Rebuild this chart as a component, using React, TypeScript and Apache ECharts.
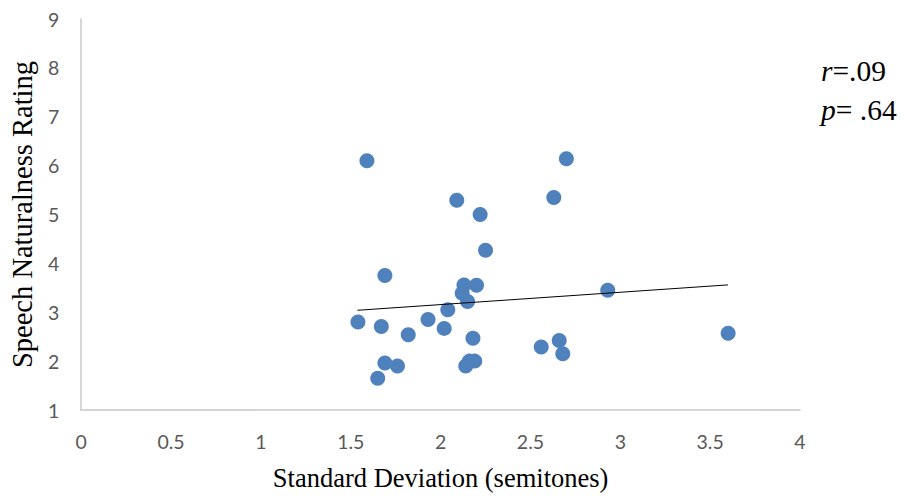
import React, { useEffect, useRef } from "react";
import * as echarts from "echarts";

const sdValues = [
  1.59, 2.70, 2.09, 2.63, 2.22, 2.25, 1.69, 2.13, 2.20, 2.12, 2.15, 2.93, 2.04, 1.54, 1.67,
  1.93, 2.02, 1.82, 2.18, 2.56, 2.66, 2.68, 1.69, 1.76, 1.65, 2.14, 2.16, 2.19, 3.60,
];
const ratingValues = [
  6.10, 6.14, 5.29, 5.35, 5.00, 4.27, 3.75, 3.56, 3.55, 3.39, 3.22, 3.45, 3.05, 2.80, 2.71,
  2.85, 2.67, 2.54, 2.47, 2.29, 2.42, 2.15, 1.96, 1.90, 1.65, 1.90, 2.00, 2.00, 2.57,
];
const trendX = [1.537, 3.599];
const trendY = [3.04, 3.56];
const xTitle = "Standard Deviation (semitones)";
const yTitle = "Speech Naturalness Rating";

export default function App() {
  const ref = useRef<HTMLDivElement>(null);
  useEffect(() => {
    document.body.style.margin = "0";
    const chart = echarts.init(ref.current!, null, { renderer: "svg" });
    const points = sdValues.map((x, i) => [x, ratingValues[i]]);
    const trend = trendX.map((x, i) => [x, trendY[i]]);
    const axisLabel = { color: "#595959", fontFamily: "Lato", fontSize: 19.5 };
    const rich = {
      i: { fontFamily: "Liberation Serif", fontStyle: "italic", fontSize: 29.5, fill: "#000" },
      n: { fontFamily: "Liberation Serif", fontSize: 29.5, fill: "#000" },
    };
    chart.setOption({
      animation: false,
      backgroundColor: "#ffffff",
      grid: { left: 79, right: 109, top: 19, bottom: 81 },
      xAxis: {
        type: "value",
        min: 0,
        max: 4,
        interval: 0.5,
        splitLine: { show: false },
        axisTick: { show: false },
        axisLine: { lineStyle: { color: "#c8c8c8", width: 1.5 } },
        axisLabel: { ...axisLabel, margin: 21 },
        name: xTitle,
        nameLocation: "middle",
        nameGap: 54,
        nameTextStyle: { fontFamily: "Liberation Serif", fontSize: 26.5, color: "#000000" },
      },
      yAxis: {
        type: "value",
        min: 1,
        max: 9,
        interval: 1,
        splitLine: { show: false },
        axisTick: { show: false },
        axisLine: { show: true, lineStyle: { color: "#c8c8c8", width: 1.5 } },
        axisLabel: { ...axisLabel, margin: 22 },
        name: yTitle,
        nameLocation: "middle",
        nameGap: 43,
        nameTextStyle: { fontFamily: "Liberation Serif", fontSize: 28.5, color: "#000000" },
      },
      series: [
        {
          type: "scatter",
          data: points,
          symbolSize: 15,
          itemStyle: { color: "#4f81bd", opacity: 1 },
        },
        {
          type: "line",
          data: trend,
          symbol: "none",
          lineStyle: { color: "#000000", width: 1 },
        },
      ],
      graphic: [
        {
          type: "text",
          left: 821,
          top: 56,
          style: { rich, text: "{i|r}{n|=.09}" },
        },
        {
          type: "text",
          left: 821,
          top: 95,
          style: { rich, text: "{i|p}{n|= .64}" },
        },
      ],
    });
    return () => chart.dispose();
  }, []);
  return <div ref={ref} style={{ width: 909, height: 496 }} />;
}
